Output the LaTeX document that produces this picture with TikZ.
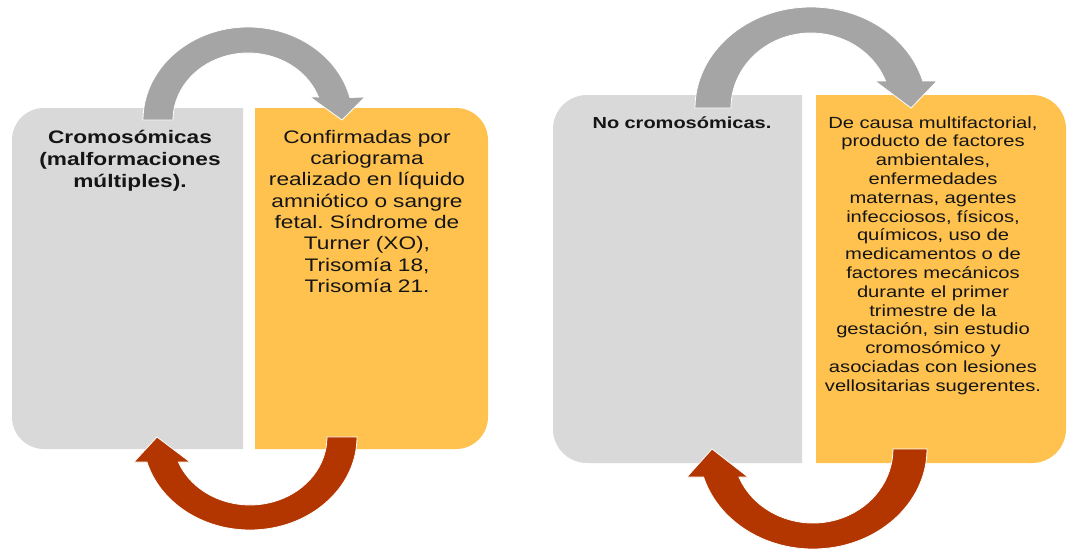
\documentclass[tikz,border=0pt]{standalone}
\usepackage{fontspec}
\newfontfamily\wide{Liberation Sans}[FakeStretch=1.25]
\frenchspacing
\definecolor{boxgray}{HTML}{D9D9D9}
\definecolor{boxorange}{HTML}{FFC24F}
\definecolor{arrgray}{HTML}{A5A5A5}
\definecolor{arrred}{HTML}{B33500}
\definecolor{txtcol}{HTML}{151515}
\tikzset{
  graybox/.style={fill=boxgray},
  orangebox/.style={fill=boxorange},
  greyarrow/.style={fill=arrgray, draw=white, line width=0.6pt},
  redarrow/.style={fill=arrred, draw=white, line width=0.6pt},
  txt/.style={text=txtcol, align=center, inner sep=0pt, anchor=base, text width=260pt},
  bigtxt/.style={txt, font=\wide\fontsize{13.6pt}{16pt}\selectfont},
  bigbold/.style={txt, font=\wide\bfseries\fontsize{13.6pt}{16.5pt}\selectfont},
  smalltxt/.style={txt, font=\wide\fontsize{12.1pt}{14.1pt}\selectfont},
  smallbold/.style={txt, font=\wide\bfseries\fontsize{12pt}{14pt}\selectfont},
}
\begin{document}
\begin{tikzpicture}[x=0.75pt,y=-0.75pt]
\useasboundingbox[fill=white] (0,0) rectangle (1068,550);

% ---------- left group ----------
\fill[graybox] (243,108) -- (44,108) arc[start angle=270, end angle=180, radius=32]
  -- (12,417) arc[start angle=180, end angle=90, radius=32] -- (243,449) -- cycle;
\fill[orangebox] (255,108) -- (456,108) arc[start angle=270, end angle=360, radius=32]
  -- (488,417) arc[start angle=0, end angle=90, radius=32] -- (255,449) -- cycle;

\fill[greyarrow] (143,120) arc[start angle=180, end angle=346, x radius=105, y radius=93]
  -- (365,97) -- (342,120) -- (310,97) -- (318.5,97.1)
  arc[start angle=340, end angle=180, x radius=75, y radius=67] -- cycle;
\fill[redarrow] (357,437) arc[start angle=0, end angle=164.4, x radius=107, y radius=93]
  -- (134,462) -- (157,437) -- (190,462) -- (178.4,462)
  arc[start angle=158.4, end angle=0, x radius=77, y radius=68] -- cycle;

\node[bigbold] (t1) at (130,143) {Cromosómicas\\(malformaciones\\múltiples).};
\node[bigtxt] (t2) at (367,143) {Confirmadas por\\cariograma\\realizado en líquido\\amniótico o sangre\\fetal. Síndrome de\\Turner (XO),\\Trisomía 18,\\Trisomía 21.};

% ---------- right group ----------
\fill[graybox] (802,95) -- (587,95) arc[start angle=270, end angle=180, radius=34]
  -- (553,429) arc[start angle=180, end angle=90, radius=34] -- (802,463) -- cycle;
\fill[orangebox] (816,95) -- (1032,95) arc[start angle=270, end angle=360, radius=34]
  -- (1066,429) arc[start angle=0, end angle=90, radius=34] -- (816,463) -- cycle;

\fill[greyarrow] (695,108) arc[start angle=180, end angle=344.5, x radius=116, y radius=101]
  -- (937,81) -- (911,108) -- (875,81) -- (885.6,81)
  arc[start angle=338.9, end angle=180, x radius=80, y radius=75] -- cycle;
\fill[redarrow] (927,449) arc[start angle=0, end angle=163.7, x radius=114, y radius=100]
  -- (687,477) -- (712,449) -- (748,477) -- (738.9,477)
  arc[start angle=157.8, end angle=0, x radius=80, y radius=74] -- cycle;

\node[smallbold] (t3) at (682,128) {No cromosómicas.};
\node[smalltxt] (t4) at (933,128) {De causa multifactorial,\\producto de factores\\ambientales,\\enfermedades\\maternas, agentes\\infecciosos, físicos,\\químicos, uso de\\medicamentos o de\\factores mecánicos\\durante el primer\\trimestre de la\\gestación, sin estudio\\cromosómico y\\asociadas con lesiones\\vellositarias sugerentes.};
\end{tikzpicture}
\end{document}
